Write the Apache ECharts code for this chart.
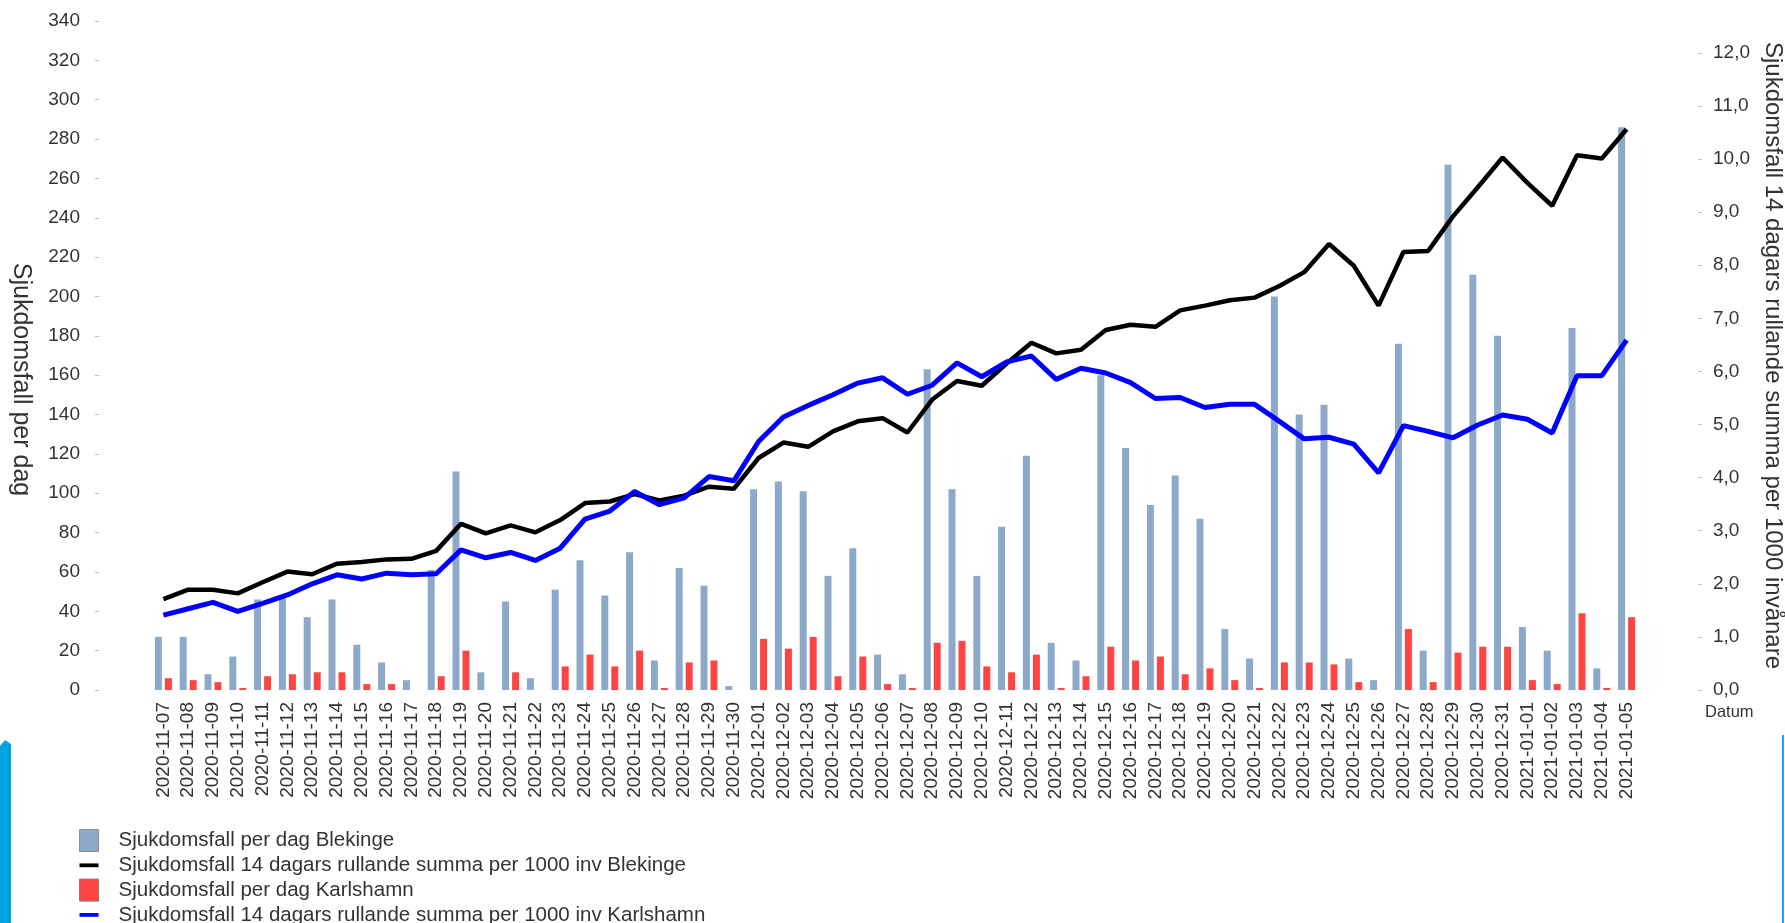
<!DOCTYPE html>
<html>
<head>
<meta charset="utf-8">
<script src="https://cdn.jsdelivr.net/npm/echarts@6/dist/echarts.min.js"></script>
<style>
html,body{margin:0;padding:0;background:#fff;}
#chart{width:1785px;height:923px;}
</style>
</head>
<body>
<div id="chart"></div>
<script>
const dates = [
 '2020-11-07','2020-11-08','2020-11-09','2020-11-10','2020-11-11','2020-11-12','2020-11-13','2020-11-14','2020-11-15','2020-11-16',
 '2020-11-17','2020-11-18','2020-11-19','2020-11-20','2020-11-21','2020-11-22','2020-11-23','2020-11-24','2020-11-25','2020-11-26',
 '2020-11-27','2020-11-28','2020-11-29','2020-11-30','2020-12-01','2020-12-02','2020-12-03','2020-12-04','2020-12-05','2020-12-06',
 '2020-12-07','2020-12-08','2020-12-09','2020-12-10','2020-12-11','2020-12-12','2020-12-13','2020-12-14','2020-12-15','2020-12-16',
 '2020-12-17','2020-12-18','2020-12-19','2020-12-20','2020-12-21','2020-12-22','2020-12-23','2020-12-24','2020-12-25','2020-12-26',
 '2020-12-27','2020-12-28','2020-12-29','2020-12-30','2020-12-31','2021-01-01','2021-01-02','2021-01-03','2021-01-04','2021-01-05'
];
const casesBlekinge = [
 27,27,8,17,46,47,37,46,23,14,5,61,111,9,45,6,51,66,48,70,15,62,53,2,
 102,106,101,58,72,18,8,163,102,58,83,119,24,15,160,123,94,109,87,31,16,200,140,145,16,5,176,20,267,211,180,
 32,20,184,11,286
];
const rollingBlekinge = [
 1.71,1.89,1.89,1.82,2.03,2.23,2.18,2.38,2.41,2.46,2.47,2.62,3.13,2.95,3.10,2.97,3.20,3.52,3.55,3.69,3.57,3.66,3.83,3.79,
 4.37,4.66,4.58,4.87,5.06,5.12,4.85,5.47,5.82,5.73,6.15,6.54,6.34,6.41,6.78,6.88,6.84,7.15,7.24,7.34,7.39,7.61,7.87,8.40,7.99,7.24,8.25,8.27,8.92,9.47,10.03,
 9.55,9.12,10.07,10.01,10.56
];
const casesKarlshamn = [
 6,5,4,1,7,8,9,9,3,3,0,7,20,0,9,0,12,18,12,20,1,14,15,0,
 26,21,27,7,17,3,1,24,25,12,9,18,1,7,22,15,17,8,11,5,1,14,14,13,4,0,31,4,19,22,22,
 5,3,39,1,37
];
const rollingKarlshamn = [
 1.41,1.53,1.65,1.48,1.63,1.79,2.00,2.17,2.09,2.20,2.17,2.19,2.64,2.49,2.59,2.44,2.67,3.22,3.37,3.74,3.49,3.62,4.02,3.94,
 4.68,5.14,5.36,5.56,5.78,5.88,5.57,5.74,6.16,5.90,6.18,6.29,5.85,6.06,5.97,5.79,5.49,5.51,5.32,5.38,5.38,5.06,4.73,4.76,4.63,4.09,4.98,4.87,4.75,4.99,5.18,
 5.10,4.84,5.92,5.92,6.59
];
const leftTicks = [0,20,40,60,80,100,120,140,160,180,200,220,240,260,280,300,320,340];
const rightTicks = [0,1,2,3,4,5,6,7,8,9,10,11,12];
const seriesNames = [
 'Sjukdomsfall per dag Blekinge',
 'Sjukdomsfall 14 dagars rullande summa per 1000 inv Blekinge',
 'Sjukdomsfall per dag Karlshamn',
 'Sjukdomsfall 14 dagars rullande summa per 1000 inv Karlshamn'
];

const FONT = '"Liberation Sans", Arial, sans-serif';
const lineIcon = 'path://M0,0H20V4H0Z';
const chart = echarts.init(document.getElementById('chart'), null, {renderer:'canvas'});
chart.setOption({
  animation:false,
  backgroundColor:'#ffffff',
  textStyle:{fontFamily:FONT},
  grid:{left:151,right:146,top:21,bottom:233,containLabel:false,outerBoundsMode:'none'},
  legend:{
    orient:'vertical', left:79, top:829, height:100, padding:0,
    itemWidth:19, itemHeight:22, itemGap:2.3,
    selectedMode:false,
    textStyle:{fontFamily:FONT,fontSize:20.5,color:'#333',lineHeight:22,padding:[0,0,0,15]},
    data:[
      {name:seriesNames[0],icon:'rect',itemStyle:{color:'#8DA9CA',borderColor:'#8a8f99',borderWidth:1}},
      {name:seriesNames[1],icon:lineIcon,itemStyle:{color:'#000000'}},
      {name:seriesNames[2],icon:'rect',itemStyle:{color:'#FF4444',borderColor:'#a07070',borderWidth:1}},
      {name:seriesNames[3],icon:lineIcon,itemStyle:{color:'#0000FF'}}
    ]
  },
  xAxis:{
    type:'category', data:dates, boundaryGap:true,
    axisLine:{show:false}, axisTick:{show:false},
    axisLabel:{interval:0, rotate:90, fontSize:19, color:'#333', margin:12, fontFamily:FONT},
    name:'Datum', nameLocation:'end', nameGap:66,
    nameTextStyle:{fontSize:16.5,color:'#333',fontFamily:FONT,verticalAlign:'top',padding:[14,0,0,0]}
  },
  yAxis:[
    {
      type:'value', min:0, max:340, interval:20, position:'left', offset:52,
      axisLine:{show:false},
      axisTick:{show:true,length:4,lineStyle:{color:'#c0c0c0'}},
      splitLine:{show:false},
      axisLabel:{fontSize:19,color:'#333',margin:19,fontFamily:FONT,customValues:leftTicks},
      name:'Sjukdomsfall per dag', nameLocation:'middle', nameRotate:-90, nameGap:66,
      nameTextStyle:{fontSize:25,color:'#333',fontFamily:FONT,padding:[0,0,0,48]}
    },
    {
      type:'value', min:0, max:12.6, position:'right', offset:59,
      axisLine:{show:false},
      axisTick:{show:true,length:4,lineStyle:{color:'#c0c0c0'},customValues:rightTicks},
      splitLine:{show:false},
      axisLabel:{fontSize:19,color:'#333',margin:15,fontFamily:FONT,customValues:rightTicks,
        formatter:function(v){return v.toFixed(1).replace('.',',');}},
      name:'Sjukdomsfall 14 dagars rullande summa per 1000 invånare', nameLocation:'middle', nameRotate:-90, nameGap:55,
      nameTextStyle:{fontSize:24,color:'#333',fontFamily:FONT}
    }
  ],
  series:[
    {name:seriesNames[0],type:'bar',yAxisIndex:0,data:casesBlekinge,barWidth:7,barGap:'43%',
     itemStyle:{color:'#8DA9CA'},z:2},
    {name:seriesNames[1],type:'line',yAxisIndex:1,data:rollingBlekinge,symbol:'none',
     lineStyle:{color:'#000000',width:4.5},itemStyle:{color:'#000000'},z:5},
    {name:seriesNames[2],type:'bar',yAxisIndex:0,data:casesKarlshamn,barWidth:7,barGap:'43%',
     itemStyle:{color:'#FF4444'},z:2},
    {name:seriesNames[3],type:'line',yAxisIndex:1,data:rollingKarlshamn,symbol:'none',
     lineStyle:{color:'#0000FF',width:5},itemStyle:{color:'#0000FF'},z:6}
  ],
  graphic:[
    {type:'polygon',shape:{points:[[0,746],[5,740],[11,744],[11,923],[0,923]]},style:{fill:'#00A3E0'},silent:true},
    {type:'rect',shape:{x:1782,y:735,width:2,height:188},style:{fill:'#1AA7EC'},silent:true}
  ]
});
</script>
</body>
</html>
